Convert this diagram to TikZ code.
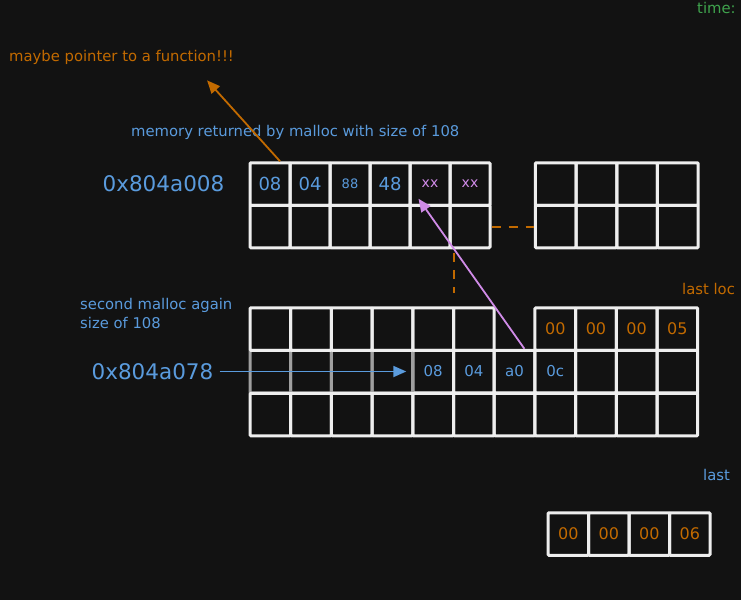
\documentclass[tikz,border=0pt]{standalone}
\usepackage{fontspec}
\setmainfont{DejaVu Sans}
\usetikzlibrary{positioning,calc,arrows.meta}
\definecolor{bg}{HTML}{121212}
\definecolor{addr}{HTML}{5A9BDD}
\definecolor{note}{HTML}{C26A00}
\definecolor{ptr}{HTML}{D08BE8}
\definecolor{tick}{HTML}{3FA34D}
\definecolor{grid}{HTML}{EEEEEE}

\begin{document}
\begin{tikzpicture}[x=1pt, y=-1pt,
  cell/.style = {draw=grid, line width=3pt, minimum width=#1, minimum height=42.5pt,
    inner sep=0pt, rounded corners=1pt},
  cell/.default = 40pt,
  bytebig/.style = {text=addr, font=\fontsize{18}{18}\selectfont},
  bytesmall/.style = {text=addr, font=\fontsize{13}{13}\selectfont},
  bytexx/.style = {text=ptr, font=\fontsize{14}{14}\selectfont},
  byteorg/.style = {text=note, font=\fontsize{16}{16}\selectfont},
  bytemid/.style = {text=addr, font=\fontsize{15}{15}\selectfont},
  label/.style = {font=\fontsize{14.8}{19}\selectfont, inner sep=0pt},
  address/.style = {text=addr, font=\fontsize{21.5}{21.5}\selectfont, inner sep=0pt},
  link/.style = {note, line width=2pt, dash pattern=on 9pt off 8pt},
  pointer/.style = {line width=1.8pt, -{Triangle[length=13pt,width=11pt]}}
]
\useasboundingbox (0,0) rectangle (741,600);
\fill[bg] (0,0) rectangle (741,600);
\clip (0,0) rectangle (741,600);

% first malloc chunk
\foreach \v/\s [count=\i] in {08/bytebig,04/bytebig,88/bytesmall,48/bytebig,xx/bytexx,xx/bytexx}
  \node[cell, \s] (a-1-\i) at (230+40*\i,184) {\v};
\foreach \i in {1,...,6}
  \node[cell] (a-2-\i) at (230+40*\i,226.5) {};

% chunk on the right
\foreach \i in {1,...,4} {
  \node[cell=40.7pt] (b-1-\i) at (515+40.7*\i,184) {};
  \node[cell=40.7pt] (b-2-\i) at (515+40.7*\i,226.5) {};
}

% second malloc chunk, middle row first
\foreach \i/\v in {5/08,6/04,7/a0,8/0c,9/,10/,11/}
  \node[cell=40.7pt, bytemid] (c-2-\i) at (229.65+40.7*\i,371.5) {\v};
\foreach \i in {1,...,4}
  \node[cell=40.7pt, draw=gray!75] (c-2-\i) at (229.65+40.7*\i,371.5) {};
\foreach \i in {1,...,6}
  \node[cell=40.7pt] (c-1-\i) at (229.65+40.7*\i,329) {};
\foreach \i/\v in {8/00,9/00,10/00,11/05}
  \node[cell=40.7pt, byteorg] (c-1-\i) at (229.65+40.7*\i,329) {\v};
\foreach \i in {1,...,11}
  \node[cell=40.7pt] (c-3-\i) at (229.65+40.7*\i,414.5) {};

% last chunk
\foreach \v [count=\i] in {00,00,00,06}
  \node[cell=40.5pt, byteorg] (d-\i) at (527.75+40.5*\i,534) {\v};

% texts
\node[label, text=note, anchor=west] (fn) at (9,57) {maybe pointer to a function!!!};
\node[label, text=addr, anchor=west] (cap1) at (131,132) {memory returned by malloc with size of 108};
\node[address, left=24pt of a-1-1] (p1) {0x804a008};
\node[label, text=addr, anchor=north west, align=left] (cap2) at (80,298) {second malloc again\\size of 108};
\node[address, left=35pt of c-2-1] (p2) {0x804a078};
\node[label, text=note, anchor=west] (lastloc) at (682,289) {last loc};
\node[label, text=addr, anchor=west] (last) at (703,475) {last};
\node[label, text=tick, anchor=west] (time) at (697,8) {time:};

% connectors
\draw[link] (a-2-6.east) -- (b-2-1.west);
\coordinate (drop) at ($(a-2-5.south east)+(2,4)$);
\draw[link] (drop) -- ++(0,40);
\draw[pointer, addr] (p2.east) ++(6,0) -- ([xshift=-5pt]c-2-5.west);
\draw[pointer, ptr] ($(c-2-7.north east)+(-12,0)$) -- ($(a-1-5.south west)+(10,-8)$);
\draw[pointer, note] ($(a-1-1.north)+(10,0)$) -- ($(fn.south east)+(-27,16)$);
\end{tikzpicture}
\end{document}
